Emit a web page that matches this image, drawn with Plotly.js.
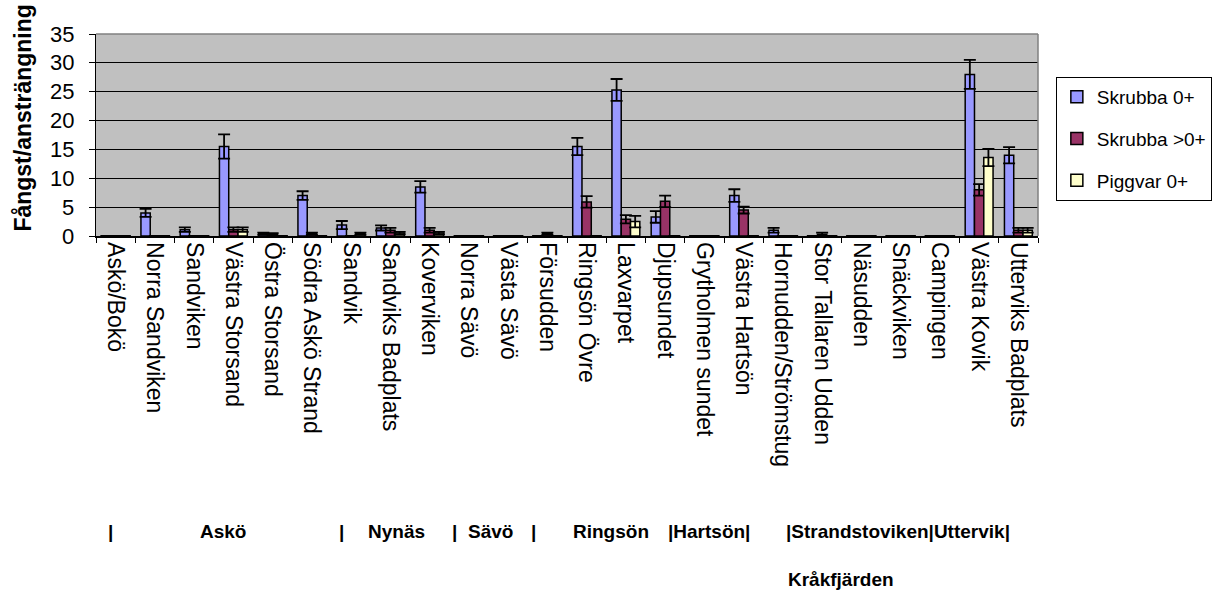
<!DOCTYPE html>
<html>
<head>
<meta charset="utf-8">
<script src="https://cdn.plot.ly/plotly-3.0.1.min.js"></script>
<style>html,body{margin:0;padding:0;background:#fff;}#chart{width:1224px;height:593px;}</style>
</head>
<body>
<div id="chart"></div>
<script>
const categories = ['Askö/Bokö','Norra Sandviken','Sandviken','Västra Storsand','Östra Storsand','Södra Askö Strand','Sandvik','Sandviks Badplats','Koverviken','Norra Sävö','Västa Sävö','Försudden','Ringsön Övre','Laxvarpet','Djupsundet','Grytholmen sundet','Västra Hartsön','Hornudden/Strömstug','Stor Tallaren Udden','Näsudden','Snäckviken','Campingen','Västra Kovik','Utterviks Badplats'];

const skrubba0    = [0, 4.0, 1.1, 15.5, 0.4, 7.0, 1.9, 1.4, 8.5, 0, 0, 0, 15.5, 25.3, 3.3, 0, 7.0, 1.0, 0, 0, 0, 0, 28.0, 14.0];
const skrubba0Err = [0, 0.7, 0.4, 2.1, 0.2, 0.75, 0.7, 0.45, 1.0, 0, 0, 0, 1.5, 1.9, 1.0, 0, 1.1, 0.4, 0, 0, 0, 0, 2.5, 1.4];

const skrubbaGt    = [0, 0, 0, 1.1, 0.3, 0.4, 0, 1.0, 1.0, 0, 0, 0.4, 5.9, 2.9, 6.0, 0, 4.5, 0, 0.3, 0, 0, 0, 8.0, 1.0];
const skrubbaGtErr = [0, 0, 0, 0.4, 0.2, 0.2, 0, 0.4, 0.4, 0, 0, 0.2, 1.0, 0.7, 1.0, 0, 0.6, 0, 0.3, 0, 0, 0, 1.0, 0.4];

const piggvar    = [0, 0, 0, 1.1, 0, 0, 0.4, 0.5, 0.5, 0, 0, 0, 0, 2.5, 0, 0, 0, 0, 0, 0, 0, 0, 13.6, 1.0];
const piggvarErr = [0, 0, 0, 0.4, 0, 0, 0.2, 0.2, 0.2, 0, 0, 0, 0, 1.0, 0, 0, 0, 0, 0, 0, 0, 0, 1.5, 0.4];

const seriesNames = ['Skrubba 0+', 'Skrubba >0+', 'Piggvar 0+'];
const yTitle = 'Fångst/ansträngning';
const yTickVals = [0, 5, 10, 15, 20, 25, 30, 35];

// group labels below the category labels (text, pixel x, anchor)
const groupLabels = [
  ['|', 111, 'center'],
  ['Askö', 224, 'center'],
  ['|', 344, 'center'],
  ['Nynäs', 399, 'center'],
  ['|', 458, 'center'],
  ['Sävö', 494, 'center'],
  ['|', 537, 'center'],
  ['Ringsön', 615, 'center'],
  ['|Hartsön|', 671, 'left'],
  ['|Strandstoviken|Uttervik|', 790, 'left']
];
const regionLabel = 'Kråkfjärden';

const FONT = 'Liberation Sans, Arial, sans-serif';
const L = 96, R = 1046, T = 34, B = 236;
const px2x = p => (p - L) / (R - L);
const py2y = p => (B - p) / (B - T);

function barTrace(name, y, err, color, grp) {
  return {
    type: 'bar', name: name, x: categories, y: y,
    legendgroup: grp,
    marker: {color: color, line: {color: '#000', width: 1.5}},
    error_y: {type: 'data', array: err, visible: true, color: '#000', thickness: 1.8, width: 6, symmetric: true}
  };
}

const data = [
  barTrace(seriesNames[0], skrubba0, skrubba0Err, '#9999FF', 'a'),
  barTrace(seriesNames[1], skrubbaGt, skrubbaGtErr, '#993366', 'b'),
  barTrace(seriesNames[2], piggvar, piggvarErr, '#FFFFCC', 'c')
];

const annotations = groupLabels.map(g => ({
  text: '<b>' + g[0] + '</b>', xref: 'paper', yref: 'paper',
  x: px2x(g[1]), y: py2y(531), xanchor: g[2], yanchor: 'middle',
  showarrow: false, font: {family: FONT, size: 19, color: '#000'}
}));
annotations.push({
  text: '<b>' + regionLabel + '</b>', xref: 'paper', yref: 'paper',
  x: px2x(847), y: py2y(579), xanchor: 'center', yanchor: 'middle',
  showarrow: false, font: {family: FONT, size: 19, color: '#000'}
});
// y-axis title (placed as in the original, slightly above the plot centre)
annotations.push({
  text: '<b>' + yTitle + '</b>', xref: 'paper', yref: 'paper',
  x: px2x(22), y: py2y(118), xanchor: 'center', yanchor: 'middle', textangle: -90,
  showarrow: false, font: {family: FONT, size: 23, color: '#000'}
});
// y tick labels, positioned on the y scale, set further from the axis as in the original
yTickVals.forEach(v => annotations.push({
  text: String(v), xref: 'paper', yref: 'y', x: px2x(76), y: v,
  xanchor: 'right', yanchor: 'middle', showarrow: false,
  font: {family: FONT, size: 22, color: '#000'}
}));

const layout = {
  width: 1224, height: 593,
  margin: {l: L, r: 1224 - R, t: T, b: 593 - B, pad: 0},
  paper_bgcolor: '#fff', plot_bgcolor: '#C0C0C0',
  barmode: 'group', bargap: 0.29, bargroupgap: 0,
  font: {family: FONT, color: '#000'},
  xaxis: {
    type: 'category', tickson: 'boundaries', ticks: 'outside', ticklen: 5, tickwidth: 1, tickcolor: '#000',
    showline: true, linecolor: '#000', linewidth: 1.5, showgrid: false, zeroline: false,
    tickangle: 90, tickfont: {family: FONT, size: 23, color: '#000'}, automargin: false
  },
  yaxis: {
    range: [0, 35], tickmode: 'array', tickvals: yTickVals, showticklabels: false,
    ticks: 'outside', ticklen: 6, tickwidth: 1, tickcolor: '#000',
    showline: true, linecolor: '#000', linewidth: 1, gridcolor: '#000', gridwidth: 1, zeroline: false,
    automargin: false
  },
  legend: {
    x: px2x(1064), y: py2y(77), xanchor: 'left', yanchor: 'top',
    bgcolor: '#fff', bordercolor: '#000', borderwidth: 1,
    font: {family: FONT, size: 19, color: '#000'},
    traceorder: 'grouped', tracegroupgap: 14, itemwidth: 30
  },
  shapes: [
    {type: 'line', xref: 'paper', yref: 'paper', x0: 0, x1: 1, y0: 1, y1: 1, line: {color: '#808080', width: 1.5}},
    {type: 'line', xref: 'paper', yref: 'paper', x0: 1, x1: 1, y0: 0, y1: 1, line: {color: '#808080', width: 1.5}}
  ],
  annotations: annotations
};

Plotly.newPlot('chart', data, layout, {displayModeBar: false, staticPlot: true});
</script>
</body>
</html>
